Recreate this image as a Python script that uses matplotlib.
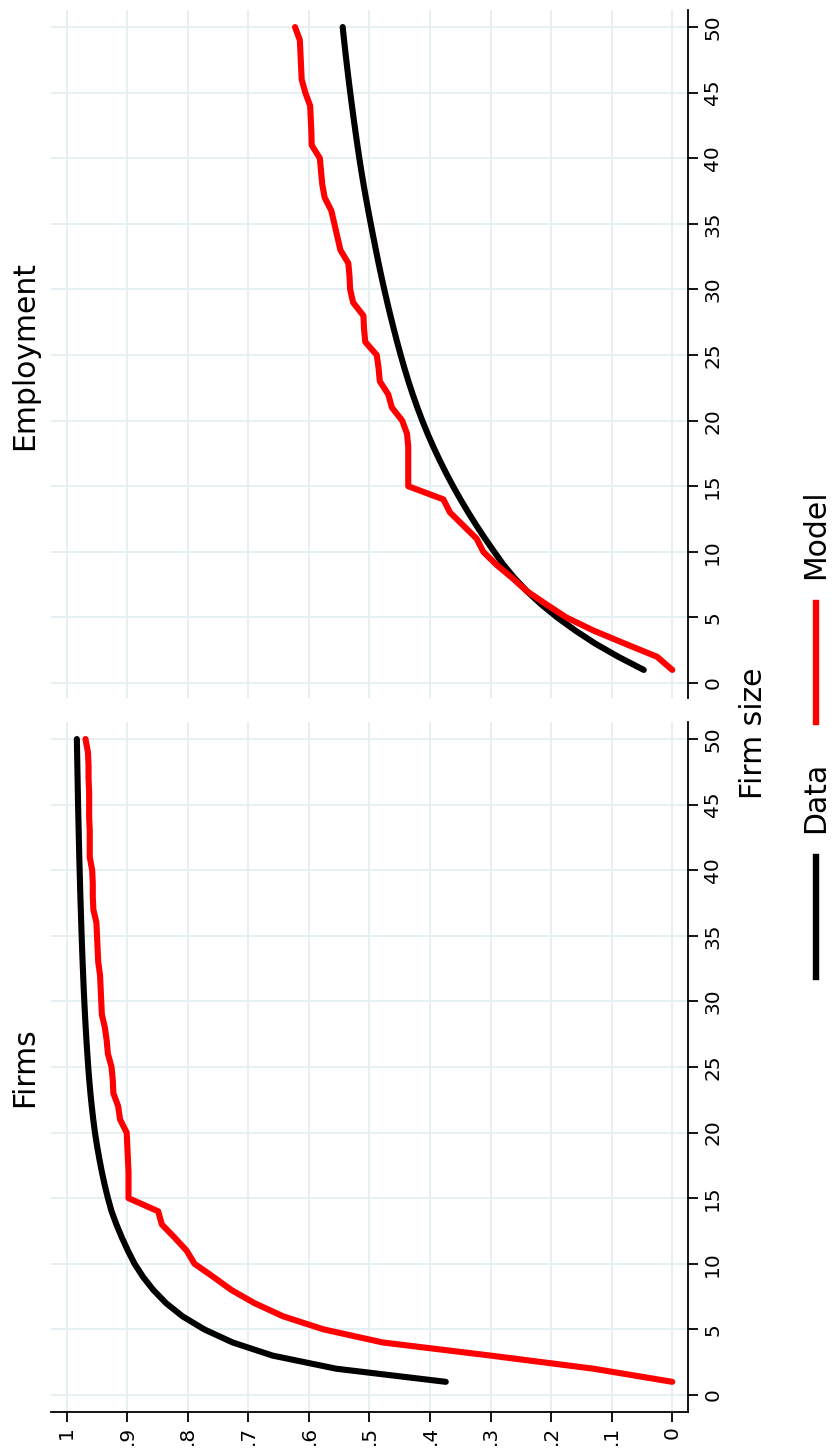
import numpy as np
import matplotlib
matplotlib.use("Agg")
import matplotlib.pyplot as plt
from matplotlib.lines import Line2D

plt.rcParams['font.family'] = ['DejaVu Sans']

# ---------------- data ----------------
firm_size = list(range(1, 51))

firms_data = [0.374, 0.555, 0.660, 0.726, 0.773, 0.809, 0.836, 0.857, 0.874, 0.888,
              0.899, 0.909, 0.918, 0.926, 0.932, 0.9373, 0.942, 0.9462, 0.950, 0.9534,
              0.9562, 0.9587, 0.9609, 0.9628, 0.9645, 0.966, 0.9674, 0.9687, 0.9699, 0.971,
              0.972, 0.9729, 0.9738, 0.9746, 0.9754, 0.9761, 0.9768, 0.9775, 0.9781, 0.9787,
              0.9793, 0.9798, 0.9803, 0.9808, 0.9813, 0.9817, 0.9821, 0.9825, 0.9829, 0.9833]

firms_model = [0.000, 0.130, 0.300, 0.478, 0.576, 0.643, 0.690, 0.728, 0.758, 0.789,
               0.802, 0.822, 0.843, 0.849, 0.898, 0.898, 0.898, 0.899, 0.900, 0.901,
               0.912, 0.915, 0.923, 0.924, 0.926, 0.932, 0.934, 0.937, 0.942, 0.943,
               0.944, 0.945, 0.948, 0.949, 0.950, 0.951, 0.956, 0.957, 0.957, 0.958,
               0.962, 0.962, 0.962, 0.963, 0.963, 0.963, 0.964, 0.964, 0.965, 0.969]

emp_data = [0.047, 0.089, 0.127, 0.160, 0.190, 0.2165, 0.240, 0.2605, 0.2785, 0.294,
            0.309, 0.3233, 0.3369, 0.3498, 0.362, 0.3735, 0.3843, 0.3945, 0.404, 0.4128,
            0.421, 0.4286, 0.4357, 0.4423, 0.4485, 0.4544, 0.460, 0.4654, 0.4706, 0.4756,
            0.4804, 0.485, 0.4894, 0.4937, 0.4979, 0.502, 0.506, 0.5098, 0.5134, 0.5168,
            0.520, 0.5231, 0.5261, 0.529, 0.5318, 0.5345, 0.5371, 0.5396, 0.542, 0.5443]

emp_model = [0.000, 0.025, 0.078, 0.130, 0.175, 0.208, 0.240, 0.264, 0.290, 0.312,
             0.323, 0.345, 0.367, 0.378, 0.436, 0.436, 0.436, 0.436, 0.438, 0.446,
             0.463, 0.469, 0.483, 0.485, 0.488, 0.507, 0.509, 0.510, 0.527, 0.532,
             0.533, 0.535, 0.548, 0.553, 0.558, 0.563, 0.574, 0.578, 0.580, 0.582,
             0.5955, 0.596, 0.597, 0.598, 0.606, 0.612, 0.613, 0.614, 0.615, 0.623]

share_ticks = [1.0, 0.9, 0.8, 0.7, 0.6, 0.5, 0.4, 0.3, 0.2, 0.1, 0.0]
share_labels = ['1', '.9', '.8', '.7', '.6', '.5', '.4', '.3', '.2', '.1', '0']
size_ticks = [0, 5, 10, 15, 20, 25, 30, 35, 40, 45, 50]
size_labels = [str(t) for t in size_ticks]

panel_titles = ['Firms', 'Employment']
series_names = ['Data', 'Model']
series_colors = ['black', '#FF0000']
axis_title = 'Firm size'

# ---------------- figure ----------------
W, H = 833, 1450
fig = plt.figure(figsize=(W / 100, H / 100), dpi=100)
fig.patch.set_facecolor('white')

def fx(px):
    return px / W

def fy(py):
    return 1 - py / H

grid_color = '#E6EFF1'

ax_f = fig.add_axes([fx(51), fy(1412), (688 - 51) / W, (1412 - 722) / H])
ax_e = fig.add_axes([fx(51), fy(698), (688 - 51) / W, (698 - 10) / H])

panels = [(ax_f, firms_data, firms_model, (-1.3, 51.3), True),
          (ax_e, emp_data, emp_model, (-1.14, 51.3), False)]

for ax, dvals, mvals, ylim, show_x in panels:
    ax.set_facecolor('white')
    ax.plot(dvals, firm_size, color=series_colors[0], lw=4.4,
            solid_capstyle='round', solid_joinstyle='round', zorder=3)
    ax.plot(mvals, firm_size, color=series_colors[1], lw=4.4,
            solid_capstyle='round', solid_joinstyle='round', zorder=4)
    ax.set_xlim(1.026, -0.026)
    ax.set_ylim(*ylim)
    ax.set_xticks(share_ticks)
    ax.set_yticks(size_ticks)
    ax.grid(True, color=grid_color, lw=1.4, zorder=0)
    ax.set_axisbelow(True)
    for s in ['left', 'top']:
        ax.spines[s].set_visible(False)
    ax.spines['right'].set_linewidth(1.3)
    ax.spines['bottom'].set_linewidth(1.3)
    ax.yaxis.tick_right()
    ax.tick_params(axis='y', direction='out', length=7, width=1.3, pad=4,
                   labelsize=14.5, labelrotation=90)
    ax.set_yticklabels(size_labels, rotation=90, va='center', ha='left')
    if show_x:
        ax.tick_params(axis='x', direction='out', length=7, width=1.3, pad=3,
                       labelsize=14.5)
        ax.set_xticklabels(share_labels, rotation=90, va='top', ha='center')
    else:
        ax.spines['bottom'].set_visible(False)
        ax.tick_params(axis='x', length=0, labelbottom=False)

# panel titles
fig.text(fx(25), fy(1067), panel_titles[0], rotation=90, ha='center', va='center', fontsize=21.5)
fig.text(fx(25), fy(355), panel_titles[1], rotation=90, ha='center', va='center', fontsize=21.5)

# axis title
fig.text(fx(754), fy(733), axis_title, rotation=90, ha='center', va='center', fontsize=21.5)

# legend (rotated)
fig.add_artist(Line2D([fx(816), fx(816)], [fy(977), fy(857)], color=series_colors[0],
                      lw=4.6, transform=fig.transFigure))
fig.text(fx(816), fy(797), series_names[0], rotation=90, ha='center', va='center', fontsize=21.5)
fig.add_artist(Line2D([fx(816), fx(816)], [fy(722), fy(603)], color=series_colors[1],
                      lw=4.6, transform=fig.transFigure))
fig.text(fx(816), fy(534), series_names[1], rotation=90, ha='center', va='center', fontsize=21.5)

fig.savefig('out.png', dpi=100, facecolor='white')
